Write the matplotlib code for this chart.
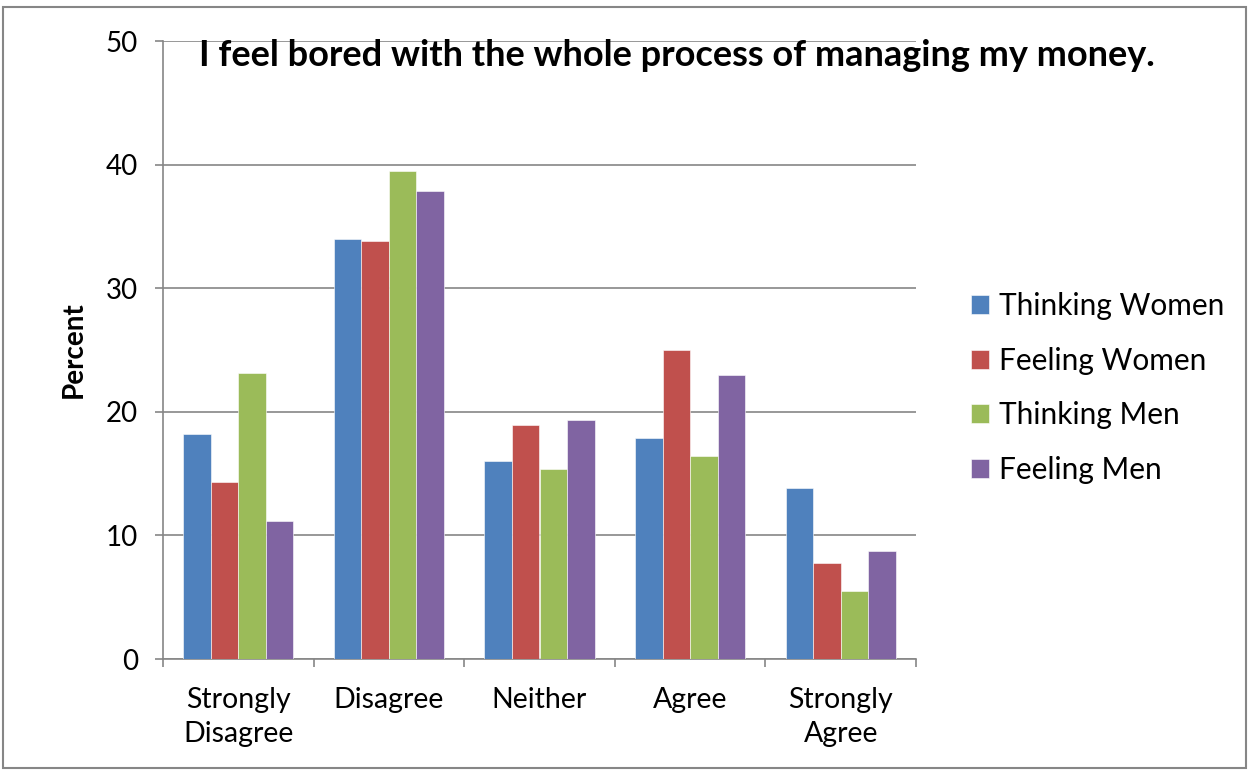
import numpy as np
import matplotlib.pyplot as plt
from matplotlib.patches import Rectangle

categories = ["Strongly\nDisagree", "Disagree", "Neither", "Agree", "Strongly\nAgree"]
series_names = ["Thinking Women", "Feeling Women", "Thinking Men", "Feeling Men"]
thinking_women = [18.2, 34.0, 16.0, 17.9, 13.8]
feeling_women = [14.3, 33.8, 18.9, 25.0, 7.8]
thinking_men = [23.1, 39.5, 15.4, 16.4, 5.5]
feeling_men = [11.2, 37.9, 19.3, 23.0, 8.7]
colors = ["#4f81bd", "#c0504d", "#9bbb59", "#8064a2"]

plt.rcParams["font.family"] = ["Lato", "DejaVu Sans"]

fig = plt.figure(figsize=(12.5, 7.7), dpi=100)
ax = fig.add_axes([163 / 1250, 111 / 770, 753 / 1250, 618 / 770])

# rahmen um das ganze diagramm
fig.patches.append(Rectangle((3 / 1250, 2 / 770), 1243 / 1250, 761 / 770,
                             transform=fig.transFigure, fill=False,
                             edgecolor="#868686", linewidth=1.5))

x = np.arange(len(categories))
w = 0.183
data = [thinking_women, feeling_women, thinking_men, feeling_men]
for i, (name, vals) in enumerate(zip(series_names, data)):
    ax.bar(x + (i - 1.5) * w, vals, width=w, color=colors[i], label=name,
           edgecolor="white", linewidth=0.4, zorder=3)

ax.set_xlim(-0.5, len(categories) - 0.5)
ax.set_ylim(0, 50)
ax.set_yticks(range(0, 51, 10))
ax.grid(axis="y", color="#868686", linewidth=1.2, zorder=0)

ax.set_xticks(x)
ax.set_xticklabels(categories, fontsize=20.5, linespacing=1.4)
ax.set_xticks(np.arange(-0.5, len(categories), 1), minor=True)
ax.tick_params(axis="x", which="major", length=0, pad=20)
ax.tick_params(axis="x", which="minor", length=6, color="#868686", width=1.2)
ax.tick_params(axis="y", length=6, color="#868686", width=1.2, labelsize=20, pad=12)

for s in ["top", "right"]:
    ax.spines[s].set_visible(False)
for s in ["left", "bottom"]:
    ax.spines[s].set_color("#868686")
    ax.spines[s].set_linewidth(1.2)

ax.set_ylabel("Percent", fontsize=20, fontweight="bold", labelpad=14)
fig.text(677 / 1250, 1 - 55 / 770, "I feel bored with the whole process of managing my money.",
         ha="center", va="center", fontsize=26, fontweight="bold")

ax.legend(loc="center left", bbox_to_anchor=(944 / 1250, 1 - 388 / 770),
          bbox_transform=fig.transFigure, frameon=False, fontsize=21.5,
          handlelength=0.6, handleheight=0.6, handletextpad=0.35,
          labelspacing=0.9)

fig.savefig("out.png", dpi=100)
